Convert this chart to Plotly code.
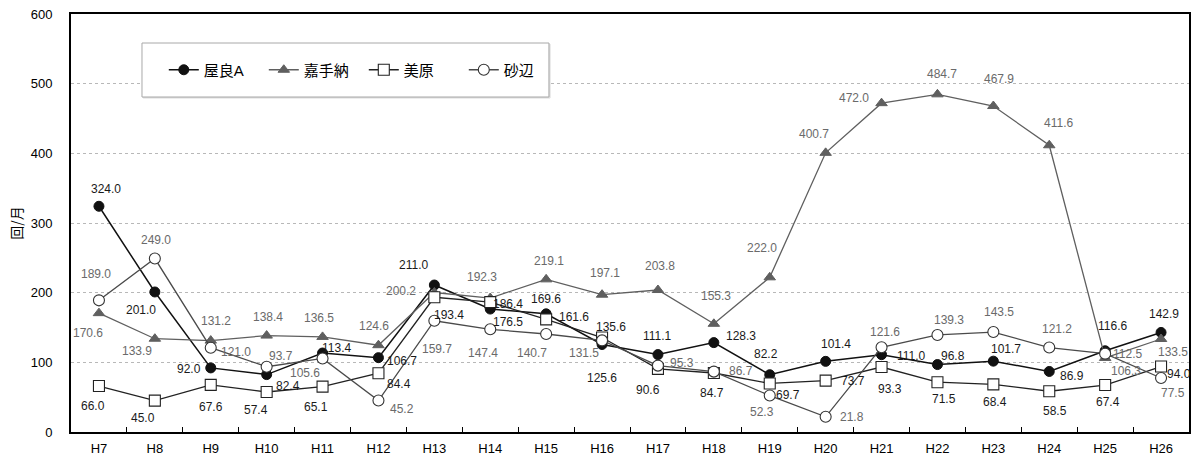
import plotly.graph_objects as go

# Fiscal years (Heisei)
years = ["H7", "H8", "H9", "H10", "H11", "H12", "H13", "H14", "H15", "H16",
         "H17", "H18", "H19", "H20", "H21", "H22", "H23", "H24", "H25", "H26"]

# Monthly noise-event counts per station
yara_a = [324.0, 201.0, 92.0, 82.4, 113.4, 106.7, 211.0, 176.5, 169.6, 125.6,
          111.1, 128.3, 82.2, 101.4, 111.0, 96.8, 101.7, 86.9, 116.6, 142.9]
kadena = [170.6, 133.9, 131.2, 138.4, 136.5, 124.6, 200.2, 192.3, 219.1, 197.1,
          203.8, 155.3, 222.0, 400.7, 472.0, 484.7, 467.9, 411.6, 106.3, 133.5]
bibaru = [66.0, 45.0, 67.6, 57.4, 65.1, 84.4, 193.4, 186.4, 161.6, 135.6,
          90.6, 84.7, 69.7, 73.7, 93.3, 71.5, 68.4, 58.5, 67.4, 94.0]
sunabe = [189.0, 249.0, 121.0, 93.7, 105.6, 45.2, 159.7, 147.4, 140.7, 131.5,
          95.3, 86.7, 52.3, 21.8, 121.6, 139.3, 143.5, 121.2, 112.5, 77.5]

y_ticks = [0, 100, 200, 300, 400, 500, 600]

# Pixel offsets of each value label from its marker (dx right, dy down)
off_yara = [(7, -17), (-14, 18), (-22, 1), (21, 11), (14, -5), (24, 3), (-21, -20),
            (18, 13), (0, -15), (0, 33), (0, -19), (27, -7), (-4, -21), (10, -17),
            (30, 1), (16, -9), (13, -12), (23, 5), (7, -25), (3, -18)]
off_kadena = [(-11, 20), (-18, 12), (5, -20), (1, -19), (-4, -19), (-4, -19), (-33, -2),
              (-8, -21), (3, -18), (3, -22), (2, -24), (2, -28), (-8, -29), (-12, -19),
              (-28, -5), (5, -20), (6, -27), (9, -22), (21, 13), (12, 13)]
off_bibaru = [(-6, 20), (-12, 17), (0, 22), (-11, 18), (-7, 20), (21, 11), (15, 18),
              (18, 2), (28, -2), (9, -11), (-10, 21), (-2, 20), (18, 12), (27, 0),
              (8, 22), (7, 17), (2, 18), (6, 20), (3, 17), (18, 7)]
off_sunabe = [(-3, -26), (1, -19), (25, 4), (14, -11), (-18, 15), (24, 8), (3, 28),
              (-7, 24), (-14, 19), (-18, 13), (24, -3), (27, -1), (-8, 16), (26, 0),
              (3, -15), (12, -15), (6, -20), (8, -19), (22, 0), (12, 15)]

FONT = "Liberation Sans, Arial, Noto Sans CJK JP, sans-serif"

series = [
    dict(name="屋良A", values=yara_a, offsets=off_yara, line="#111111", lw=1.5,
         marker=dict(symbol="circle", size=10, color="#111111",
                     line=dict(color="#111111", width=1)),
         label_color="#1a1a1a"),
    dict(name="嘉手納", values=kadena, offsets=off_kadena, line="#5f5f5f", lw=1.3,
         marker=dict(symbol="triangle-up", size=10, color="#5f5f5f",
                     line=dict(color="#5f5f5f", width=1)),
         label_color="#6a6a6a"),
    dict(name="美原", values=bibaru, offsets=off_bibaru, line="#222222", lw=1.3,
         marker=dict(symbol="square", size=11, color="#ffffff",
                     line=dict(color="#222222", width=1.1)),
         label_color="#1a1a1a"),
    dict(name="砂辺", values=sunabe, offsets=off_sunabe, line="#4a4a4a", lw=1.3,
         marker=dict(symbol="circle", size=11, color="#ffffff",
                     line=dict(color="#333333", width=1.1)),
         label_color="#6a6a6a"),
]

fig = go.Figure()
annotations = []
for s in series:
    fig.add_trace(go.Scatter(
        x=years, y=s["values"], name=s["name"], mode="lines+markers",
        line=dict(color=s["line"], width=s["lw"]),
        marker=s["marker"], cliponaxis=False,
    ))
    for x, v, (dx, dy) in zip(years, s["values"], s["offsets"]):
        annotations.append(dict(
            x=x, y=v, xref="x", yref="y", text=f"{v:.1f}", showarrow=False,
            xshift=dx, yshift=-dy,
            font=dict(family=FONT, size=12, color=s["label_color"]),
        ))

# Legend frame
shapes = [
    dict(type="rect", xref="paper", yref="paper", x0=0.0645, x1=0.4285,
         y0=0.799, y1=0.928, line=dict(color="#dddddd", width=1),
         fillcolor="#dddddd", layer="above"),
    dict(type="rect", xref="paper", yref="paper", x0=0.0635, x1=0.4275,
         y0=0.8014, y1=0.9306, line=dict(color="#a8a8a8", width=1),
         fillcolor="#ffffff", layer="above"),
]

fig.update_layout(
    width=1195, height=460,
    margin=dict(l=71, r=6, t=14, b=28),
    paper_bgcolor="#ffffff", plot_bgcolor="#ffffff",
    font=dict(family=FONT, size=13, color="#000000"),
    showlegend=True,
    legend=dict(
        orientation="h", x=0.083, y=0.866, xanchor="left", yanchor="middle",
        bgcolor="rgba(0,0,0,0)", borderwidth=0,
        font=dict(family="Liberation Sans, Noto Sans CJK JP, sans-serif", size=15, color="#000"),
        itemwidth=30, tracegroupgap=0,
        entrywidth=55, entrywidthmode="pixels",
    ),
    annotations=annotations,
    shapes=shapes,
)

fig.update_xaxes(
    type="category", showgrid=False, showline=True, linecolor="#000000", linewidth=1.8,
    mirror=True, ticks="inside", tickson="boundaries", ticklen=5, tickcolor="#000000",
    tickfont=dict(size=13, color="#000000"), range=[-0.5, 19.5],
    ticklabelstandoff=3, automargin=False,
)
fig.update_yaxes(
    range=[0, 600], tickvals=y_ticks, showgrid=True, gridcolor="#b8b8b8", griddash="dot",
    gridwidth=1, showline=True, linecolor="#000000", linewidth=1.8, mirror=True,
    ticks="", tickfont=dict(size=13, color="#000000"), ticklabelstandoff=14,
    zeroline=False, automargin=False,
    title=dict(text="回/月", font=dict(family="Noto Sans CJK JP, sans-serif", size=14, color="#000000"),
               standoff=5),
)

fig.write_html("out.html")
